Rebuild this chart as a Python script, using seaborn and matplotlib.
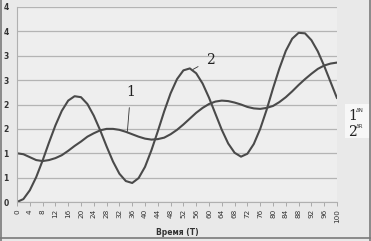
import numpy as np
import pandas as pd
import matplotlib
matplotlib.use("Agg")
import matplotlib.pyplot as plt
import seaborn as sns

# Data (every 2 time units)
time_values = list(range(0, 101, 2))
series_1 = [1.00, 0.98, 0.92, 0.86, 0.84, 0.86, 0.90, 0.96, 1.05, 1.15,
            1.24, 1.34, 1.41, 1.47, 1.50, 1.50, 1.48, 1.44, 1.39, 1.34,
            1.30, 1.28, 1.29, 1.32, 1.39, 1.48, 1.59, 1.71, 1.83, 1.93,
            2.01, 2.06, 2.08, 2.07, 2.04, 2.00, 1.95, 1.92, 1.91, 1.93,
            1.97, 2.05, 2.15, 2.27, 2.40, 2.52, 2.63, 2.73, 2.80, 2.84, 2.86]
series_2 = [0.00, 0.06, 0.24, 0.51, 0.85, 1.22, 1.57, 1.87, 2.08, 2.17,
            2.15, 2.01, 1.77, 1.47, 1.14, 0.83, 0.58, 0.43, 0.39, 0.49,
            0.72, 1.06, 1.45, 1.86, 2.23, 2.52, 2.70, 2.74, 2.64, 2.43,
            2.14, 1.81, 1.48, 1.20, 1.01, 0.93, 0.99, 1.19, 1.50, 1.89,
            2.33, 2.74, 3.10, 3.35, 3.47, 3.46, 3.32, 3.09, 2.79, 2.46, 2.13]
x_ticks = list(range(0, 101, 4))
y_ticks = [0, 0.5, 1, 1.5, 2, 2.5, 3, 3.5, 4]
y_tick_labels = ["0", "1", "1", "2", "2", "3", "3", "4", "4"]
x_label = "Время (Т)"
legend_items = [("1", "ΔN"), ("2", "ΔR")]

df = pd.DataFrame({"t": time_values * 2,
                   "v": series_1 + series_2,
                   "s": ["1"] * len(time_values) + ["2"] * len(time_values)})

sns.set_theme(style="white")
plt.rcParams['font.family'] = ['DejaVu Sans']

bg = "#e9e9e9"
fig = plt.figure(figsize=(3.71, 2.41), dpi=100, facecolor=bg)
ax = fig.add_axes([17/371, 1 - 202/241, 320/371, 195/241])
ax.set_facecolor("#eeeeee")

sns.lineplot(data=df, x="t", y="v", hue="s", palette=["#4a4a4a", "#4a4a4a"],
             linewidth=1.5, legend=False, ax=ax)

ax.set_xlim(0, 100)
ax.set_ylim(0, 4)
ax.set_yticks(y_ticks)
ax.set_yticklabels(y_tick_labels, fontsize=5.5, color="#333333", fontweight="bold")
ax.set_xticks(x_ticks)
ax.set_xticklabels([str(t) for t in x_ticks], rotation=90, fontsize=5.2, color="#333333")
ax.grid(axis="y", color="#b4b4b4", linewidth=0.9)
for s in ["top", "right"]:
    ax.spines[s].set_visible(False)
ax.spines["left"].set_color("#b0b0b0")
ax.spines["bottom"].set_color("#b0b0b0")
ax.spines["left"].set_linewidth(0.8)
ax.spines["bottom"].set_linewidth(0.8)
ax.tick_params(axis="x", length=3, width=0.7, color="#aaaaaa", pad=2, direction="out", bottom=True)
ax.tick_params(axis="y", length=0, pad=6)
ax.set_xlabel(x_label, fontsize=5.5, fontweight="bold", color="#333333", labelpad=4)
ax.set_ylabel("")

# Curve labels with leader lines
ax.annotate("1", xy=(34.5, 1.45), xytext=(35.5, 2.26), fontsize=10, family="DejaVu Serif",
            ha="center", va="center", color="#222222",
            arrowprops=dict(arrowstyle="-", color="#333333", lw=0.6, shrinkA=4, shrinkB=0))
ax.annotate("2", xy=(55.0, 2.72), xytext=(60.5, 2.92), fontsize=10, family="DejaVu Serif",
            ha="center", va="center", color="#222222",
            arrowprops=dict(arrowstyle="-", color="#333333", lw=0.6, shrinkA=4, shrinkB=0))

# Legend at right
fig.patches.append(plt.Rectangle((345/371, 1 - 138/241), 25/371, 34/241,
                                 transform=fig.transFigure, facecolor="#f7f7f7",
                                 edgecolor="none"))
for i, (num, sym) in enumerate(legend_items):
    y0 = 1 - (116 + 16 * i) / 241
    fig.text(348/371, y0, num, fontsize=10, family="DejaVu Serif", color="#222222",
             ha="left", va="center")
    fig.text(356/371, y0 + 5/241, sym, fontsize=4, color="#333333", ha="left", va="center")

# Outer frame (left, bottom, right)
frame_kw = dict(transform=fig.transFigure, color="#7a7a7a", linewidth=1.2)
fig.add_artist(plt.Line2D([1.2/371, 1.2/371], [0, 1], **frame_kw))
fig.add_artist(plt.Line2D([369.5/371, 369.5/371], [0, 1], **frame_kw))
fig.add_artist(plt.Line2D([0, 1], [3.5/241, 3.5/241], **frame_kw))

fig.savefig("out.png", dpi=100, facecolor=bg)
